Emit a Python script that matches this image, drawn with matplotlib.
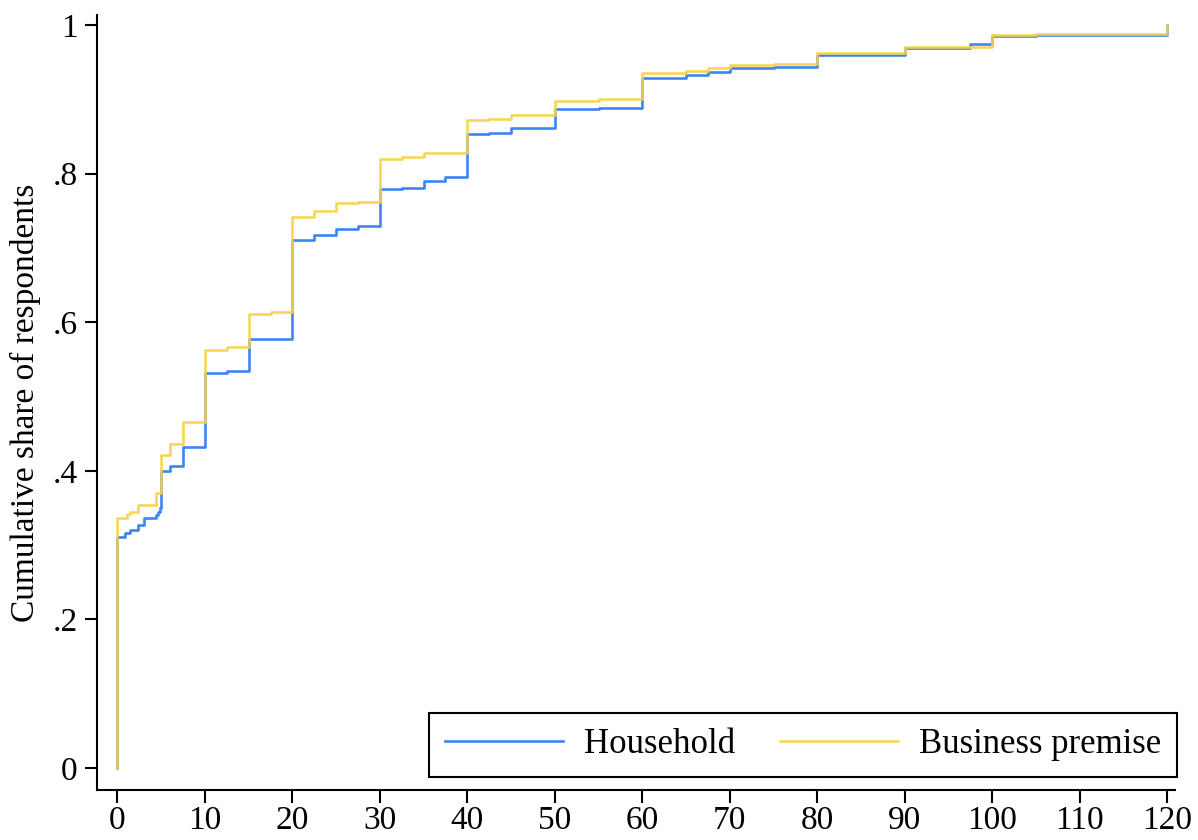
import matplotlib
matplotlib.use("Agg")
from matplotlib import pyplot as plt

# step points (minutes -> cumulative share)
household_x = [0, 0, 0.9, 1.4, 2.3, 3.0, 4.4, 4.6, 4.9, 5, 6, 7.5, 10, 12.5, 15,
               20, 22.5, 25, 27.5, 30, 32.5, 35, 37.5, 40, 42.5, 45, 50, 55, 60, 65,
               67.5, 70, 75, 80, 90, 97.5, 100, 105, 120, 120]
household_y = [0, 0.311, 0.316, 0.320, 0.327, 0.337, 0.340, 0.345, 0.350, 0.400,
               0.407, 0.432, 0.531, 0.534, 0.577, 0.710, 0.717, 0.726, 0.729, 0.779,
               0.781, 0.790, 0.795, 0.854, 0.855, 0.862, 0.887, 0.889, 0.929, 0.933,
               0.937, 0.942, 0.944, 0.960, 0.969, 0.975, 0.985, 0.986, 1.0, 1.0]

business_x = [0, 0, 1.05, 1.4, 2.3, 4.4, 5, 6, 7.5, 10, 12.5, 15, 17.5, 20, 22.5,
              25, 27.5, 30, 32.5, 35, 40, 42.5, 45, 50, 55, 60, 65, 67.5, 70, 75,
              80, 90, 97.5, 100, 105, 120, 120]
business_y = [0, 0.337, 0.342, 0.345, 0.354, 0.370, 0.421, 0.436, 0.466, 0.563,
              0.566, 0.611, 0.614, 0.741, 0.750, 0.761, 0.762, 0.820, 0.822, 0.828,
              0.872, 0.873, 0.879, 0.898, 0.901, 0.935, 0.938, 0.942, 0.946, 0.947,
              0.962, 0.970, 0.971, 0.986, 0.988, 1.0, 1.0]

x_ticks = list(range(0, 121, 10))
y_ticks = [0, 0.2, 0.4, 0.6, 0.8, 1.0]
y_tick_labels = ["0", ".2", ".4", ".6", ".8", "1"]

BLUE = "#3d86f2"
GOLD = "#f8d148"
FS = 24

plt.rcParams['font.family'] = ['Liberation Serif', 'DejaVu Serif']

fig = plt.figure(figsize=(11.98, 8.40), dpi=100)
ax = fig.add_axes([97 / 1198, 1 - 790 / 840, (1175 - 97) / 1198, (790 - 15) / 840])

ax.plot(household_x, household_y, drawstyle="steps-post", color=BLUE, lw=1.9,
        label="Household")
ax.plot(business_x, business_y, drawstyle="steps-post", color=GOLD, lw=1.9,
        alpha=0.9, label="Business premise")

ax.set_xlim(-2.34, 120.9)
ax.set_ylim(-0.0296, 1.0135)
ax.set_xticks(x_ticks)
ax.set_yticks(y_ticks)
ax.set_yticklabels(y_tick_labels)
ax.set_ylabel("Cumulative share of respondents", fontsize=FS, labelpad=8)

ax.spines["top"].set_visible(False)
ax.spines["right"].set_visible(False)
for s in ("left", "bottom"):
    ax.spines[s].set_linewidth(1.5)
ax.tick_params(axis="both", direction="out", length=9, width=1.5,
               labelsize=FS, colors="black")
ax.tick_params(axis="x", pad=2)
ax.tick_params(axis="y", pad=5)

leg = ax.legend(loc="lower right", bbox_to_anchor=(1177 / 1198, 1 - 777 / 840),
                bbox_transform=fig.transFigure, borderaxespad=0, ncol=2,
                fontsize=25, handlelength=3.4, handletextpad=0.6,
                columnspacing=1.3, borderpad=0.45, fancybox=False, framealpha=1)
leg.get_frame().set_edgecolor("black")
leg.get_frame().set_linewidth(1.5)

fig.savefig("out.png", dpi=100)
